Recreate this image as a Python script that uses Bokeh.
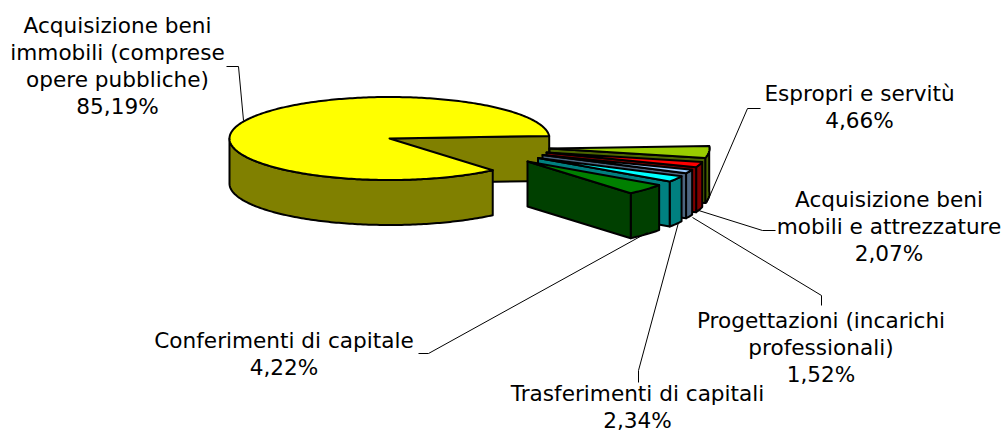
import math
import numpy as np
from bokeh.plotting import figure
from bokeh.models import Range1d
from bokeh.core.properties import value
from bokeh.embed import file_html
from bokeh.resources import INLINE

# data
categories = ["Acquisizione beni immobili (comprese opere pubbliche)", "Espropri e servitù",
              "Acquisizione beni mobili e attrezzature", "Progettazioni (incarichi professionali)",
              "Trasferimenti di capitali", "Conferimenti di capitale"]
shares = [85.19, 4.66, 2.07, 1.52, 2.34, 4.22]
pct_labels = ["85,19%", "4,66%", "2,07%", "1,52%", "2,34%", "4,22%"]
label_lines = [["Acquisizione beni", "immobili (comprese", "opere pubbliche)"],
               ["Espropri e servitù"],
               ["Acquisizione beni", "mobili e attrezzature"],
               ["Progettazioni (incarichi", "professionali)"],
               ["Trasferimenti di capitali"],
               ["Conferimenti di capitale"]]

# style / layout
top_cols = ["#FFFF00", "#99CC00", "#FF0000", "#99CCFF", "#00FFFF", "#008000"]
side_cols = ["#808000", "#4D6600", "#800000", "#4D6680", "#008080", "#004000"]
CX, CY, RX, RY, DEPTH = 389, 138, 160, 41.5, 45
GAP_END = 3.5  # degrees: where the first exploded slice starts; slices run clockwise
apex = [(CX, CY), (549, 148), (546, 152), (542, 154.5), (537.5, 157.5), (527, 161)]
label_xy = [(117, 25), (859, 93), (888.5, 199), (820.5, 320), (637, 393), (283.5, 340)]
LH = 27
leaders = [[(226, 66), (238, 66), (243, 120)],
           [(706, 203), (747, 108), (760, 108)],
           [(695, 209), (762, 230), (775, 230)],
           [(692, 217), (821, 295), (821, 305)],
           [(678, 222), (638, 370), (638, 382)],
           [(647, 232), (428, 353), (418, 353)]]

p = figure(width=1002, height=432, x_range=Range1d(0, 1002), y_range=Range1d(432, 0),
           output_backend="svg", toolbar_location=None, min_border=0,
           outline_line_color=None, background_fill_color="white")
p.axis.visible = False
p.grid.visible = False


def pt(ax, ang, dz=0):
    a = math.radians(ang)
    return ax[0] + RX * math.cos(a), ax[1] - RY * math.sin(a) + dz


def arc(ax, a0, a1):
    n = max(2, int(abs(a1 - a0)) + 2)
    return [pt(ax, t) for t in np.linspace(a0, a1, n)]


def poly(pts, color):
    p.patch([q[0] for q in pts], [q[1] for q in pts], fill_color=color,
            line_color="black", line_width=2, line_join="round")


# the exploded slices run clockwise from GAP_END; the main slice fills the rest
m_start = GAP_END - sum(shares[1:]) * 3.6
m_end = m_start - shares[0] * 3.6
ax0 = apex[0]
# radial wall seen through the gap
e = pt(ax0, GAP_END)
poly([ax0, e, (e[0], e[1] + DEPTH), (ax0[0], ax0[1] + DEPTH)], side_cols[0])
# outer rim, front half
rim = arc(ax0, m_start, -180)
poly(rim + [(q[0], q[1] + DEPTH) for q in reversed(rim)], side_cols[0])
# top
poly([ax0] + arc(ax0, m_start, m_end), top_cols[0])

# exploded slices, back to front
a1 = GAP_END
for i in range(1, len(shares)):
    a0 = a1 - shares[i] * 3.6
    ax = apex[i]
    rim = arc(ax, a1, a0)
    poly(rim + [(q[0], q[1] + DEPTH) for q in reversed(rim)], side_cols[i])
    e = pt(ax, a0)
    poly([ax, e, (e[0], e[1] + DEPTH), (ax[0], ax[1] + DEPTH)], side_cols[i])
    poly([ax] + arc(ax, a1, a0), top_cols[i])
    a1 = a0

# leader lines
for ln in leaders:
    p.line([q[0] for q in ln], [q[1] for q in ln], line_color="black", line_width=1)

# labels
for i, lines in enumerate(label_lines):
    rows = lines + [pct_labels[i]]
    x, y0 = label_xy[i]
    p.text([x] * len(rows), [y0 + LH * k for k in range(len(rows))], text=rows,
           text_font=value("DejaVu Sans"), text_font_size="21.6px", text_color="black",
           text_align="center", text_baseline="middle")

open("out.html", "w").write(file_html(p, INLINE))
